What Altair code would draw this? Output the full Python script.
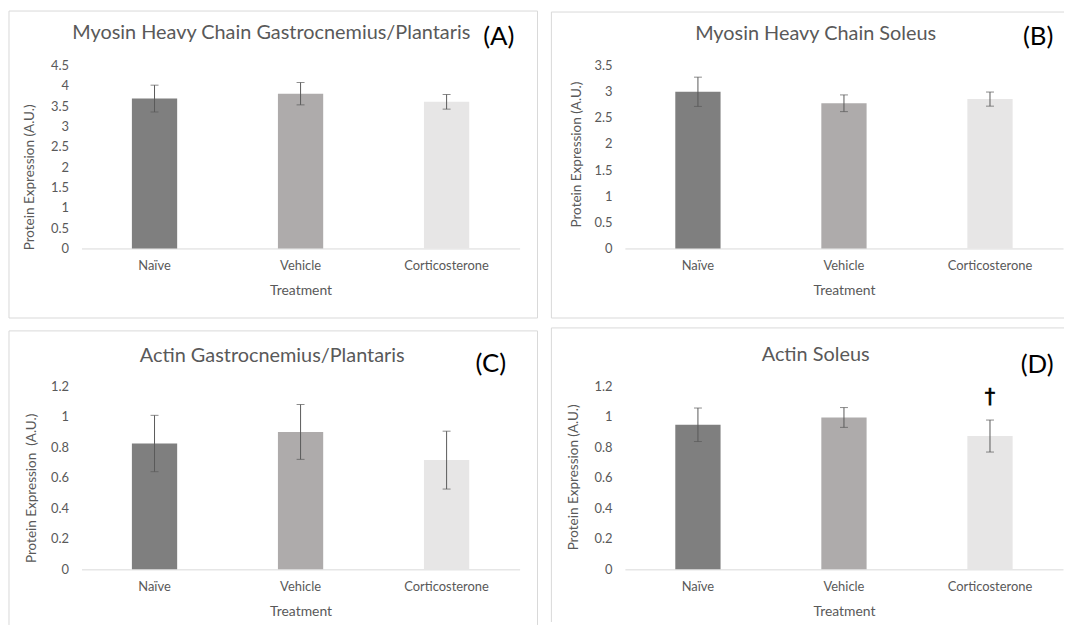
import altair as alt
import pandas as pd

categories = ["Naïve", "Vehicle", "Corticosterone"]
bar_colors = ["#7f7f7f", "#aeabab", "#e7e6e6"]

# Panel A: Myosin Heavy Chain Gastrocnemius/Plantaris
a_mean = [3.69, 3.81, 3.61]
a_err = [0.33, 0.275, 0.18]
# Panel B: Myosin Heavy Chain Soleus
b_mean = [3.00, 2.78, 2.86]
b_err = [0.28, 0.16, 0.135]
# Panel C: Actin Gastrocnemius/Plantaris
c_mean = [0.826, 0.902, 0.717]
c_err = [0.185, 0.18, 0.19]
# Panel D: Actin Soleus
d_mean = [0.949, 0.997, 0.875]
d_err = [0.11, 0.065, 0.105]

a_ticks = [0, 0.5, 1, 1.5, 2, 2.5, 3, 3.5, 4, 4.5]
b_ticks = [0, 0.5, 1, 1.5, 2, 2.5, 3, 3.5]
cd_ticks = [0, 0.2, 0.4, 0.6, 0.8, 1, 1.2]

FONT = "Lato"
GREY_TEXT = "#595959"
BORDER = "#d9d9d9"
ERR = "#5a5a5a"
W, H = 441, 184


def panel(mean, err, ticks, title, letter, ytitle, tpos, lpos, ytpos, box, dagger=None):
    df = pd.DataFrame({
        "Treatment": categories,
        "value": mean,
        "lo": [m - e for m, e in zip(mean, err)],
        "hi": [m + e for m, e in zip(mean, err)],
    })
    xenc = alt.X(
        "Treatment:N", sort=categories,
        scale=alt.Scale(paddingInner=0.69, paddingOuter=0.345),
        axis=alt.Axis(
            title="Treatment", labelAngle=0, ticks=False, domainColor=BORDER,
            labelColor=GREY_TEXT, labelFontSize=13, labelFont=FONT,
            labelBaseline="middle", labelPadding=17,
            titleColor=GREY_TEXT, titleFontSize=14, titleFont=FONT,
            titleFontWeight="normal", titleY=42, titleBaseline="middle",
        ),
    )
    yscale = alt.Scale(domain=[0, ticks[-1]], nice=False)
    yaxis = alt.Axis(
        title=ytitle, values=ticks, format="~g", domain=False, ticks=False,
        grid=False, labelColor=GREY_TEXT, labelFontSize=13, labelFont=FONT,
        labelPadding=13, titleColor=GREY_TEXT, titleFontSize=13.6,
        titleFont=FONT, titleFontWeight="normal", titleX=ytpos[0],
        titleY=ytpos[1], titleBaseline="middle", titleAlign="center",
    )
    bars = alt.Chart(df).mark_bar().encode(
        x=xenc,
        y=alt.Y("value:Q", scale=yscale, axis=yaxis),
        color=alt.Color("Treatment:N", scale=alt.Scale(domain=categories, range=bar_colors), legend=None),
    )
    rules = alt.Chart(df).mark_rule(color=ERR, strokeWidth=1).encode(
        x=xenc, y=alt.Y("lo:Q", scale=yscale, axis=yaxis), y2="hi:Q"
    )
    cap_lo = alt.Chart(df).mark_tick(color=ERR, thickness=1, size=8).encode(
        x=xenc, y=alt.Y("lo:Q", scale=yscale, axis=yaxis)
    )
    cap_hi = alt.Chart(df).mark_tick(color=ERR, thickness=1, size=8).encode(
        x=xenc, y=alt.Y("hi:Q", scale=yscale, axis=yaxis)
    )
    one = pd.DataFrame({"k": [0]})
    ttl = alt.Chart(one).mark_text(
        text=title, font=FONT, fontSize=20, color=GREY_TEXT, align="center", baseline="middle"
    ).encode(x=alt.value(tpos[0]), y=alt.value(tpos[1]))
    let = alt.Chart(one).mark_text(
        text=letter, font=FONT, fontSize=26, color="#000000", align="center", baseline="middle"
    ).encode(x=alt.value(lpos[0]), y=alt.value(lpos[1]))
    layers = [bars, rules, cap_lo, cap_hi, ttl, let]
    # box edges: list of (x, x2, y, y2)
    for (x1, x2, y1, y2) in box:
        layers.append(
            alt.Chart(one).mark_rule(color=BORDER, strokeWidth=1).encode(
                x=alt.value(x1), x2=alt.value(x2), y=alt.value(y1), y2=alt.value(y2)
            )
        )
    if dagger is not None:
        ddf = pd.DataFrame({"Treatment": [dagger[0]], "value": [dagger[1]]})
        layers.append(
            alt.Chart(ddf).mark_text(
                text="†", font="DejaVu Sans", fontSize=21,
                color="#000000", align="center", baseline="middle",
                stroke="#000000", strokeWidth=0.6
            ).encode(x=xenc, y=alt.Y("value:Q", scale=yscale, axis=yaxis))
        )
    return alt.layer(*layers).properties(width=W, height=H)


# Box edges relative to plot origin
boxA = [(-73, 459, -55, -55), (-73, 459, 254, 254), (-73, -73, -55, 254), (459, 459, -55, 254)]
boxB = [(-74, 442, -54, -54), (-74, 442, 254, 254), (-74, -74, -54, 254)]
boxC = [(-73, 459, -56, -56), (-73, -73, -56, 240), (459, 459, -56, 240)]
boxD = [(-74, 442, -59, -59), (-74, -74, -59, 237)]

pA = panel(a_mean, a_err, a_ticks, "Myosin Heavy Chain Gastrocnemius/Plantaris", "(A)",
           "Protein Expression (A.U.)", (191, -33), (420, -29), (-52, 112), boxA)
pB = panel(b_mean, b_err, b_ticks, "Myosin Heavy Chain Soleus", "(B)",
           "Protein Expression (A.U.)", (192, -32), (416, -29), (-49, 89), boxB)
pC = panel(c_mean, c_err, cd_ticks, "Actin Gastrocnemius/Plantaris", "(C)",
           "Protein Expression \u00a0(A.U.)", (192, -31), (412, -23), (-50, 102), boxC)
pD = panel(d_mean, d_err, cd_ticks, "Actin Soleus", "(D)",
           "Protein Expression (A.U.)", (192, -32), (415, -22), (-52, 91), boxD,
           dagger=("Corticosterone", 1.123))

row1 = alt.hconcat(pA, pB, spacing=12)
row2 = alt.hconcat(pC, pD, spacing=12)
chart = alt.vconcat(row1, row2, spacing=8).properties(padding=0).configure_view(stroke=None)

chart.save("out.html", embed_options={"renderer": "svg", "actions": False})
